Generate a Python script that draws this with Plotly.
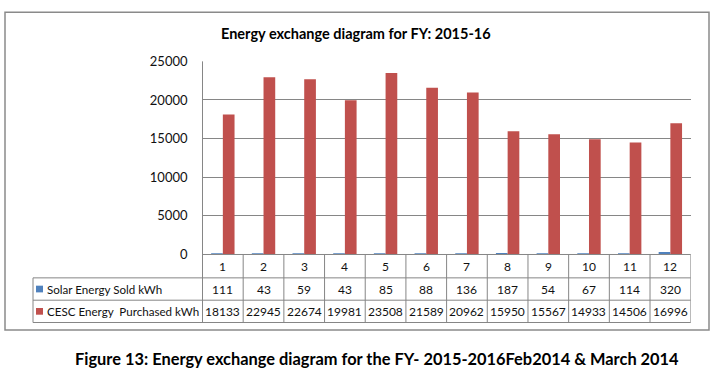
import plotly.graph_objects as go

months = [1, 2, 3, 4, 5, 6, 7, 8, 9, 10, 11, 12]
solar_sold = [111, 43, 59, 43, 85, 88, 136, 187, 54, 67, 114, 320]
cesc_purchased = [18133, 22945, 22674, 19981, 23508, 21589, 20962, 15950, 15567, 14933, 14506, 16996]
series_names = ["Solar Energy Sold kWh", "CESC Energy  Purchased kWh"]
series_colors = ["#4F81BD", "#C0504D"]
y_ticks = [0, 5000, 10000, 15000, 20000, 25000]

W, H = 715, 381
GRID = "#868686"
FONT = "Lato"

def px(x):
    return x / W

def py(y):
    return 1 - y / H

plot_l, plot_r = 202.5, 690.7
plot_t, plot_b = 55.7, 257.3
row_lines = [257.3, 281.7, 305.0, 328.3]
label_l = 33.0

fig = go.Figure()
fig.add_trace(go.Bar(x=months, y=solar_sold, name=series_names[0],
                     marker=dict(color=series_colors[0], line=dict(width=0))))
fig.add_trace(go.Bar(x=months, y=cesc_purchased, name=series_names[1],
                     marker=dict(color=series_colors[1], line=dict(width=0))))

shapes = []
shapes.append(dict(type="rect", xref="paper", yref="paper",
                   x0=px(5), x1=px(709), y0=py(336), y1=py(4.5),
                   line=dict(color="#8a8a8a", width=1.5)))
for i, yl in enumerate(row_lines):
    x0 = plot_l if i == 0 else label_l
    shapes.append(dict(type="line", xref="paper", yref="paper",
                       x0=px(x0), x1=px(plot_r), y0=py(yl), y1=py(yl),
                       line=dict(color=GRID, width=1)))
shapes.append(dict(type="line", xref="paper", yref="paper",
                   x0=px(label_l), x1=px(label_l), y0=py(row_lines[1]), y1=py(row_lines[3]),
                   line=dict(color=GRID, width=1)))
shapes.append(dict(type="line", xref="paper", yref="paper",
                   x0=px(plot_l), x1=px(plot_l), y0=py(plot_t), y1=py(row_lines[3]),
                   line=dict(color=GRID, width=1)))
for m in months:
    shapes.append(dict(type="line", xref="x", yref="paper",
                       x0=m + 0.5, x1=m + 0.5, y0=py(row_lines[0]), y1=py(row_lines[3]),
                       line=dict(color=GRID, width=1)))
for i, c in enumerate(series_colors):
    yc = (row_lines[i + 1] + row_lines[i + 2]) / 2
    shapes.append(dict(type="rect", xref="paper", yref="paper",
                       x0=px(36), x1=px(43), y0=py(yc + 3.5), y1=py(yc - 3.5),
                       fillcolor=c, line=dict(width=0)))

annotations = []
tf = dict(family=FONT, size=12, color="#111111")
lf = dict(family=FONT, size=11.6, color="#111111")
row_c = [(row_lines[i] + row_lines[i + 1]) / 2 for i in range(3)]
for m in months:
    annotations.append(dict(x=m, y=py(row_c[0]), xref="x", yref="paper", text=str(m),
                            showarrow=False, font=tf, xanchor="center", yanchor="middle"))
for row, vals in ((1, solar_sold), (2, cesc_purchased)):
    for m, v in zip(months, vals):
        annotations.append(dict(x=m, y=py(row_c[row]), xref="x", yref="paper", text=str(v),
                                showarrow=False, font=tf, xanchor="center", yanchor="middle"))
for i, name in enumerate(series_names):
    annotations.append(dict(x=px(45), y=py(row_c[i + 1]), xref="paper", yref="paper",
                            text=name.replace("  ", "&nbsp; "), showarrow=False, font=lf,
                            xanchor="left", yanchor="middle"))
annotations.append(dict(x=px(356), y=py(27), xref="paper", yref="paper",
                        text="<b>Energy exchange diagram for FY: 2015-16</b>", showarrow=False,
                        font=dict(family=FONT, size=14.5, color="#000000"),
                        xanchor="center", yanchor="middle"))
annotations.append(dict(x=px(377), y=py(366), xref="paper", yref="paper",
                        text="<b>Figure 13: Energy exchange diagram for the FY- 2015-2016Feb2014 &amp; March 2014</b>",
                        showarrow=False, font=dict(family=FONT, size=16.4, color="#000000"),
                        xanchor="center", yanchor="middle"))

fig.update_layout(
    width=W, height=H,
    margin=dict(l=0, r=0, t=0, b=0),
    paper_bgcolor="white", plot_bgcolor="white",
    barmode="group", bargap=0.425, bargroupgap=0,
    showlegend=False,
    xaxis=dict(domain=[px(plot_l), px(plot_r)], range=[0.5, 12.5],
               showticklabels=False, showgrid=False, zeroline=False,
               showline=False, fixedrange=True),
    yaxis=dict(domain=[py(plot_b), py(plot_t)], range=[0, 25000],
               tickvals=y_ticks, ticktext=[str(v) for v in y_ticks],
               tickfont=dict(family=FONT, size=13, color="#111111"),
               showgrid=True, gridcolor=GRID, gridwidth=1,
               zeroline=False, showline=False, ticks="",
               ticklabelstandoff=14, fixedrange=True),
    shapes=shapes,
    annotations=annotations,
    font=dict(family=FONT),
)

fig.write_html("out.html", config={"displayModeBar": False},
               post_script="document.body.style.margin='0';document.body.style.overflow='hidden';")
